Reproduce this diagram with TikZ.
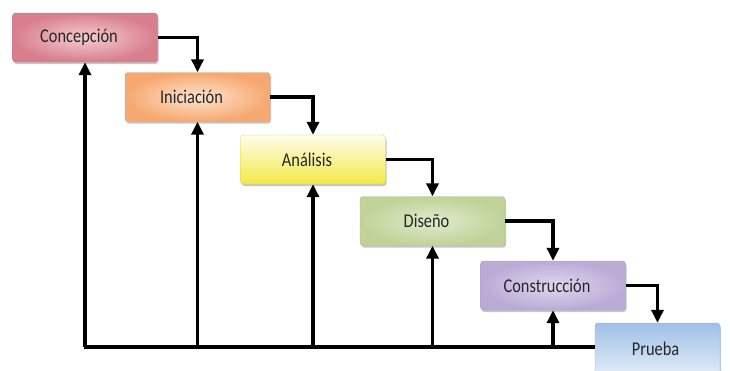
\documentclass[tikz,border=0pt]{standalone}
\usepackage{fontspec}
\setmainfont{Carlito}[FakeStretch=0.84]
\usepackage{tikz}
\usetikzlibrary{arrows.meta, shadows}

\definecolor{pinkout}{RGB}{216,126,140}
\definecolor{pinkin}{RGB}{245,205,210}
\definecolor{orangeout}{RGB}{246,168,112}
\definecolor{orangein}{RGB}{253,228,206}
\definecolor{yellowtop}{RGB}{255,253,235}
\definecolor{yellowbot}{RGB}{242,232,70}
\definecolor{greenout}{RGB}{192,210,152}
\definecolor{greenin}{RGB}{224,234,204}
\definecolor{lilacout}{RGB}{186,170,214}
\definecolor{lilacin}{RGB}{224,216,238}
\definecolor{bluetop}{RGB}{158,192,230}
\definecolor{bluebot}{RGB}{226,236,248}

\begin{document}
\begin{tikzpicture}[x=1pt, y=-1pt,
    every node/.style={font=\fontsize{19.5}{22}\selectfont, text=black!85},
    phase/.style={rectangle, rounded corners=3pt, minimum width=145pt, minimum height=49pt,
      draw=#1!80!gray, line width=0.4pt,
      execute at end node={\hspace*{12pt}},
      drop shadow={shadow xshift=1pt, shadow yshift=-2pt, opacity=0.45}},
    flow/.style={line width=3.4pt, -{Triangle[length=13pt, width=12pt]}},
    link/.style={line width=3.4pt}]

    \useasboundingbox (0,0) rectangle (730,370);

    % fases en cascada
    \node[phase=pinkout, inner color=pinkin, outer color=pinkout] (concepcion) at (85,37.5) {Concepción};
    \node[phase=orangeout, inner color=orangein, outer color=orangeout] (iniciacion) at (197.5,97) {Iniciación};
    \node[phase=yellowbot, top color=yellowtop, bottom color=yellowbot] (analisis) at (313,159.5) {Análisis};
    \node[phase=greenout, inner color=greenin, outer color=greenout] (diseno) at (432.5,221) {Diseño};
    \node[phase=lilacout, inner color=lilacin, outer color=lilacout] (construccion) at (553,285.5) {Construcción};
    \node[phase=bluetop, minimum width=125pt, minimum height=52pt, execute at end node={},
      top color=bluetop, bottom color=bluebot] (prueba) at (657.5,349) {\hspace*{8pt}Prueba};

    % avance
    \draw[flow] (concepcion.east) -| (iniciacion.north);
    \draw[flow] (iniciacion.east) -| (analisis.north);
    \draw[flow] (analisis.east) -| (diseno.north);
    \draw[flow] (diseno.east) -| (construccion.north);
    \draw[flow] (construccion.east) -| (prueba.north);

    % retorno
    \coordinate (base) at (84,347);
    \draw[link] (base) -- (prueba.west |- base);
    \foreach \n in {concepcion, iniciacion, analisis, diseno, construccion}
      \draw[flow] (base -| \n.south) -- (\n.south);
\end{tikzpicture}
\end{document}
